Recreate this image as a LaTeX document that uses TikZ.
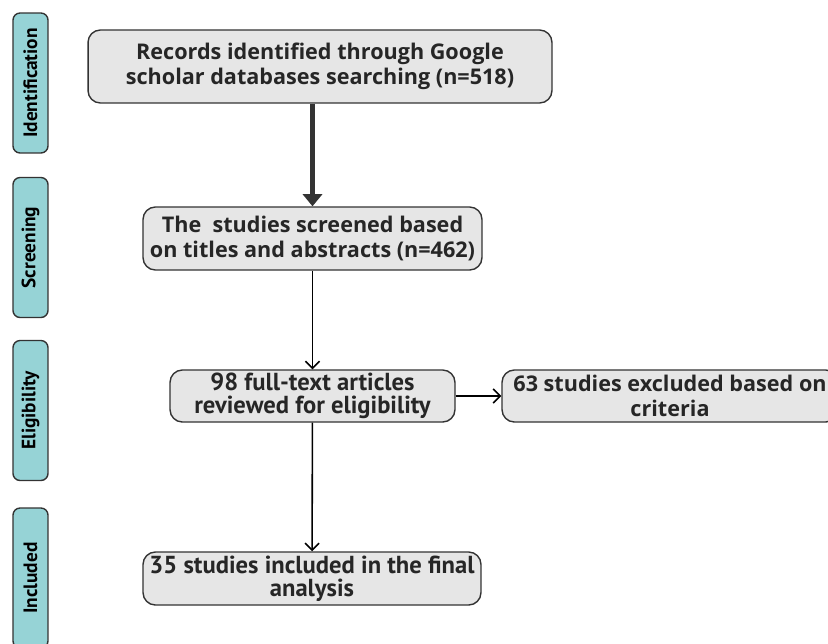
\documentclass[tikz,border=0pt]{standalone}
\usepackage{fontspec}
\setmainfont{Open Sans}
\newfontfamily\condfont{PT Sans}
\usetikzlibrary{arrows.meta}
\definecolor{stagefill}{HTML}{96D3D6}
\definecolor{boxfill}{HTML}{E6E6E6}
\definecolor{edge}{HTML}{333333}

\begin{document}
\begin{tikzpicture}[x=0.02cm, y=-0.02cm,
    stage/.style = {draw=edge, fill=stagefill, line width=0.8pt, rounded corners=4pt,
        minimum width=0.7cm, minimum height=2.8cm, inner sep=0pt,
        font=\condfont\bfseries\fontsize{11}{12}\selectfont},
    box/.style = {draw=edge, fill=boxfill, line width=0.8pt, rounded corners=7pt,
        inner sep=0pt, align=center, text=black!85,
        font=\bfseries\fontsize{12.3}{14.2}\selectfont},
    cbox/.style = {box, font=\condfont\bfseries\fontsize{14}{13}\selectfont},
    flow/.style = {-{Straight Barb[length=4pt, width=8pt]}, line width=0.9pt}]
        \useasboundingbox (0,0) rectangle (828,643);
        \begin{scope}
        \clip (0,0) rectangle (828,643);
        % stages on the left
        \node[stage] (ident) at (30.5,83) {\rotatebox{90}{Identification}};
        \node[stage] (screen) at (30.5,247.5) {\rotatebox{90}{Screening}};
        \node[stage] (elig) at (30.5,410.5) {\rotatebox{90}{Eligibility}};
        \node[stage] (incl) at (30.5,578) {\rotatebox{90}{Included}};
        % boxes
        \node[box, minimum width=9.28cm, minimum height=1.46cm] (records) at (320,66.5)
            {Records identified through Google\\scholar databases searching (n=518)};
        \node[box, minimum width=6.78cm, minimum height=1.26cm] (screened) at (312.5,238.5)
            {The\ \ studies screened based\\on titles and abstracts (n=462)};
        \node[cbox, minimum width=5.7cm, minimum height=1.04cm] (fulltext) at (312.5,396)
            {98 full-text articles\\reviewed for eligibility};
        \node[box, minimum width=6.72cm, minimum height=1.04cm] (excluded) at (670,396)
            {63 studies excluded based on\\criteria};
        \node[cbox, minimum width=6.76cm, minimum height=1.06cm] (final) at (312,578.5)
            {35 studies included in the final\\analysis};
        \end{scope}
        % connectors
        \draw[-{Triangle[length=7pt, width=11pt]}, line width=2.3pt, draw=edge, fill=edge]
            (records.south -| screened.north) -- (screened.north);
        \draw[flow] (screened) -- (fulltext);
        \draw[flow] (fulltext) -- (excluded);
        \draw[flow] (fulltext) -- (final);
      \end{tikzpicture}
\end{document}
